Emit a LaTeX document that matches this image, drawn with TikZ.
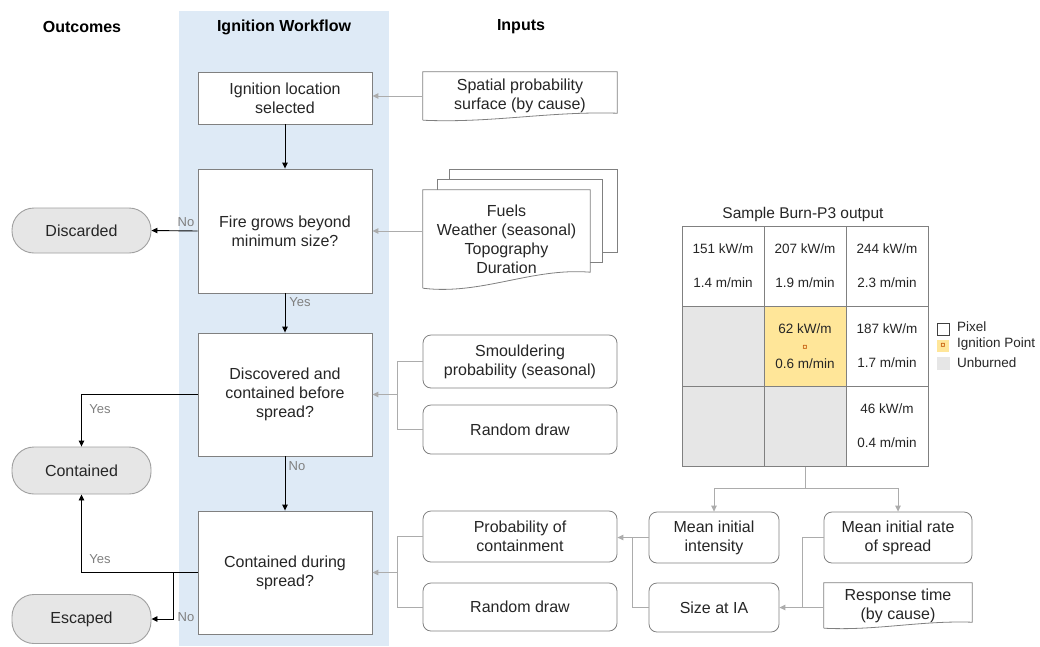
\documentclass[tikz,border=0pt]{standalone}
\usepackage{fontspec}
\setmainfont{Liberation Sans}
\usetikzlibrary{arrows.meta,calc}

\definecolor{txt}{RGB}{38,38,38}
\definecolor{band}{RGB}{222,234,246}
\definecolor{wfline}{RGB}{128,128,128}
\definecolor{outfill}{RGB}{230,230,230}
\definecolor{outedge}{RGB}{160,160,160}
\definecolor{inedge}{RGB}{128,128,128}
\definecolor{glink}{RGB}{172,172,172}
\definecolor{lblgray}{RGB}{128,128,128}
\definecolor{burn}{RGB}{255,230,153}
\definecolor{unburn}{RGB}{230,230,230}
\definecolor{ignite}{RGB}{192,80,0}

% document symbol with a wavy lower edge; #2 = rise of the right-hand end
\newcommand\wavydoc[2]{%
  \draw[inline] (#1.south west) -- (#1.north west) -- (#1.north east)
    -- ($(#1.south east)+(0,-#2)$)
    .. controls ($(#1.south east)!0.35!(#1.south west)+(0,{-1.3*#2})$)
    and ($(#1.south west)!0.35!(#1.south east)+(0,{0.45*#2})$) .. (#1.south west);}

\tikzset{
  body/.style={font=\fontsize{16}{19}\selectfont, text=txt},
  head/.style={font=\bfseries\fontsize{16}{19}\selectfont, text=black},
  wfbox/.style={body, draw=wfline, fill=white, line width=0.9pt,
    minimum width=174pt, inner sep=0pt, align=center},
  outcome/.style={body, draw=outedge, fill=outfill, line width=0.9pt,
    rounded corners=22pt, minimum width=139pt, inner sep=0pt},
  inline/.style={draw=inedge, line width=0.8pt},
  roundin/.style={body, draw=inedge, fill=white, line width=0.8pt,
    rounded corners=8pt, inner sep=0pt, align=center},
  docbox/.style={body, inner sep=0pt, align=center},
  flow/.style={draw=black, line width=0.9pt, -{Triangle[length=6pt,width=5.5pt]}},
  gline/.style={draw=glink, line width=1pt},
  gflow/.style={gline, -{Triangle[length=6pt,width=5.5pt]}},
  edgelbl/.style={text=lblgray, font=\fontsize{13}{15}\selectfont, inner sep=0pt},
  cell/.style={draw=wfline, line width=1pt, minimum width=82pt, minimum height=80pt,
    inner sep=0pt, align=center, text=txt, font=\fontsize{13.5}{34}\selectfont},
  legtxt/.style={anchor=west, inner sep=0pt, text=txt, font=\fontsize{13.5}{16}\selectfont},
}

\begin{document}
\begin{tikzpicture}[x=1pt,y=-1pt]
\useasboundingbox (0,0) rectangle (1040,646);
\fill[white] (0,0) rectangle (1040,646);

% workflow column
\fill[band] (179,11) rectangle (389,646);

% column headings
\node[head] (hout) at (82,27) {Outcomes};
\node[head] (hwf) at (284,27) {Ignition Workflow};
\node[head] (hin) at (521,27) {Inputs};

% workflow steps
\node[wfbox, minimum height=52pt] (box1) at (285,98) {Ignition location\\selected};
\node[wfbox, minimum height=124pt] (box2) at (285,231) {Fire grows beyond\\minimum size?};
\node[wfbox, minimum height=123pt] (box3) at (285,394.5) {Discovered and\\contained before\\spread?};
\node[wfbox, minimum height=123pt] (box4) at (285,572.5) {Contained during\\spread?};

% outcomes
\node[outcome, minimum height=45pt] (discarded) at (81.5,230.5) {Discarded};
\node[outcome, minimum height=47pt] (contained) at (81.5,470.5) {Contained};
\node[outcome, minimum height=49pt] (escaped) at (81.5,619) {Escaped};

% flow through the workflow
\draw[flow] (box1.south) -- (box2.north);
\draw[flow] (box2.south) -- (box3.north);
\draw[flow] (box3.south) -- (box4.north);
\draw[flow] (box2.west) -- (discarded.east);
\draw[flow] (box3.west) -| (contained.north);
\draw[flow] (box4.west) -| (contained.south);
\coordinate (split) at ($(box4.west)+(-24,0)$);
\draw[flow] (split) |- (escaped.east);

\node[edgelbl] (lno1) at (186,222) {No};
\node[edgelbl] (lyes1) at (300,302) {Yes};
\node[edgelbl] (lyes2) at (100,409) {Yes};
\node[edgelbl] (lno2) at (297,466) {No};
\node[edgelbl] (lyes3) at (100,559) {Yes};
\node[edgelbl] (lno3) at (186,617) {No};

% inputs: spatial probability surface
\node[docbox, minimum width=194pt, minimum height=48pt] (spatial) at (520,96)
  {Spatial probability\\surface (by cause)};
\wavydoc{spatial}{7}
\draw[gflow] (spatial.west) -- (spatial.west -| box1.east);

% inputs: stacked documents
\draw[inline, fill=white] (449,169) rectangle (617,252);
\draw[inline, fill=white] (437,179) rectangle (602,262);
\node[docbox, fill=white, minimum width=167pt, minimum height=98pt] (front) at (506.5,239)
  {Fuels\\Weather (seasonal)\\Topography\\Duration};
\wavydoc{front}{16}
\draw[gflow] (box2.east -| front.west) -- (box2.east);

% inputs: smouldering
\node[roundin, minimum width=194pt, minimum height=53pt] (smould) at (520,361.5)
  {Smouldering\\probability (seasonal)};
\node[roundin, minimum width=194pt, minimum height=49pt] (rand1) at (520,429.5) {Random draw};
\coordinate (jA) at ($(box3.east)+(25,0)$);
\draw[gline] (smould.west) -| (jA) |- (rand1.west);
\draw[gflow] (jA) -- (box3.east);

% inputs: containment
\node[roundin, minimum width=194pt, minimum height=51pt] (prob) at (520,536.5)
  {Probability of\\containment};
\node[roundin, minimum width=194pt, minimum height=48pt] (rand2) at (520,607) {Random draw};
\coordinate (jB) at ($(box4.east)+(25,0)$);
\draw[gline] (prob.west) -| (jB) |- (rand2.west);
\draw[gflow] (jB) -- (box4.east);

% sample Burn-P3 output grid
\node[text=txt, font=\fontsize{15.5}{18}\selectfont] (gtitle) at (803,214) {Sample Burn-P3 output};
\node[cell] (c11) at (723,266) {151 kW/m\\1.4 m/min};
\node[cell] (c12) at (805,266) {207 kW/m\\1.9 m/min};
\node[cell] (c13) at (887,266) {244 kW/m\\2.3 m/min};
\node[cell, fill=unburn] (c21) at (723,346) {};
\node[cell, fill=burn, font=\fontsize{13.5}{17.5}\selectfont] (c22) at (805,346)
  {62 kW/m\\{\color{ignite}\fontsize{9.5}{17.5}\selectfont ¤}\\0.6 m/min};
\node[cell] (c23) at (887,346) {187 kW/m\\1.7 m/min};
\node[cell, fill=unburn] (c31) at (723,426) {};
\node[cell, fill=unburn] (c32) at (805,426) {};
\node[cell] (c33) at (887,426) {46 kW/m\\0.4 m/min};
\node[draw=wfline, line width=1pt, minimum width=246pt, minimum height=240pt, inner sep=0pt]
  (grid) at (805,346) {};

% legend
\node[draw=black!75, fill=white, line width=0.8pt, minimum size=12pt, inner sep=0pt] (kpix) at (943,329.5) {};
\node[legtxt] (tpix) at (957,327) {Pixel};
\node[fill=burn, minimum size=12pt, inner sep=0pt, text=ignite, font=\fontsize{9.5}{10}\selectfont] (kign) at (943,345.5) {¤};
\node[legtxt] (tign) at (957,344) {Ignition Point};
\node[fill=unburn, minimum size=13pt, inner sep=0pt] (kunb) at (943,363) {};
\node[legtxt] (tunb) at (957,362.5) {Unburned};

% derived inputs
\node[roundin, minimum width=130pt, minimum height=51pt] (mint) at (714,537.5) {Mean initial\\intensity};
\node[roundin, minimum width=130pt, minimum height=49pt] (sia) at (714,607.5) {Size at IA};
\node[roundin, minimum width=148pt, minimum height=51pt] (mrate) at (898,537.5) {Mean initial rate\\of spread};
\node[docbox, minimum width=148pt, minimum height=45pt] (resp) at (898,605.5) {Response time\\(by cause)};
\wavydoc{resp}{6}

\coordinate (gsplit) at ($(grid.south)+(0,22)$);
\draw[gline] (grid.south) -- (gsplit);
\draw[gflow] (gsplit) -| (mint.north);
\draw[gflow] (gsplit) -| (mrate.north);
\draw[gflow] (mint.west) -- (mint.west -| prob.east);
\draw[gline] (sia.west) -| ($(mint.west)+(-16,0)$);
\draw[gline] (mrate.west) -| ($(sia.east)+(23,0)$);
\draw[gflow] (resp.west |- sia.east) -- (sia.east);
\end{tikzpicture}
\end{document}
